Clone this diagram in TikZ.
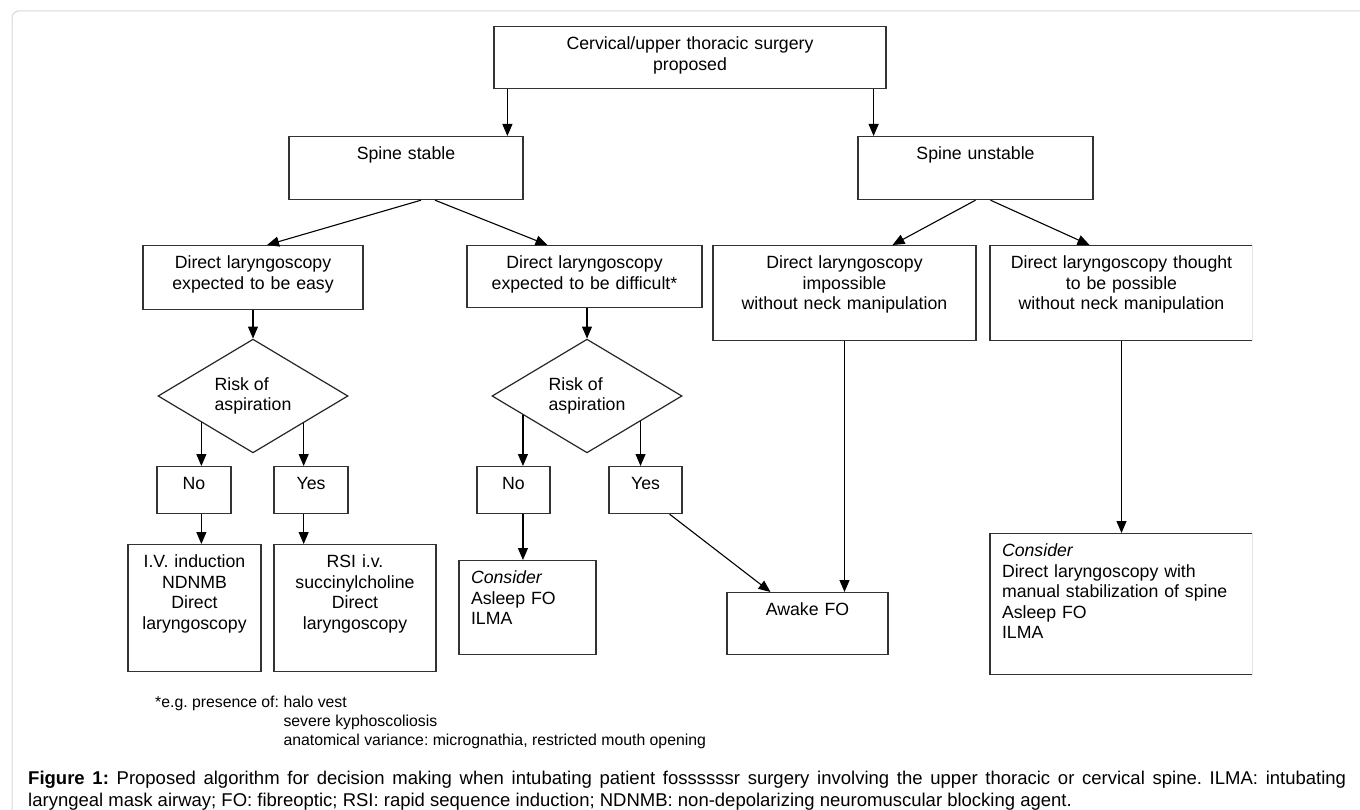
\documentclass[tikz,border=0pt]{standalone}
\usepackage{fontspec}
\setmainfont{Liberation Sans}
\usepackage{tikz}
\usetikzlibrary{shapes}
\usetikzlibrary{arrows.meta}
\usetikzlibrary{calc}

\newcommand{\boxfont}{\fontsize{17.7pt}{20.5pt}\selectfont}
\newcommand{\notefont}{\fontsize{15.8pt}{19pt}\selectfont}
\newcommand{\capfont}{\fontsize{18.5pt}{22pt}\selectfont}
\frenchspacing

\begin{document}
\begin{tikzpicture}[x=1pt,y=-1pt]
	\tikzset{box/.style = {draw=black!80, line width=1.2pt, anchor=north, align=center, 
			inner xsep=0pt, inner ysep=0pt, text height=23pt, font=\boxfont}}
	\tikzset{boxleft/.style = {box, align=left, inner xsep=12pt}}
	\tikzset{decision/.style = {shape=diamond, draw=black!85, line width=1.2pt, 
			minimum width=190pt, minimum height=112pt, inner sep=0pt, 
			align=left, font=\boxfont}}
	\tikzset{edge/.style = {-{Triangle[length=12pt,width=10pt]}, line width=1.1pt}}
	\tikzset{note/.style = {inner sep=0pt, anchor=base west}}
	
	\useasboundingbox (0,0) rectangle (1360,810);
	\fill[white] (0,0) rectangle (1360,810);
	% frame
	\draw[black!15, line width=1pt, rounded corners=7pt] (12,11) rectangle (1400,850);
	
	\begin{scope}
		\clip (0,0) rectangle (1252,700);
		% vertices
		\node[box, text width=392pt, text depth=39pt] (top) at (690,26) {Cervical/upper thoracic surgery\\proposed};
		\node[box, text width=234pt, text depth=40pt] (stable) at (406,136) {Spine stable};
		\node[box, text width=235pt, text depth=40pt] (unstable) at (975.5,136) {Spine unstable};
		\node[box, text width=220pt, text depth=41pt] (easy) at (253,245) {Direct laryngoscopy\\expected to be easy};
		\node[box, text width=235pt, text depth=39pt] (diff) at (584.5,245) {Direct laryngoscopy\\expected to be difficult*};
		\node[box, text width=263pt, text depth=72pt] (imposs) at (844.5,245) {Direct laryngoscopy\\impossible\\without neck manipulation};
		\node[box, text width=263pt, text depth=72pt] (thought) at (1121.5,245) {Direct laryngoscopy thought\\to be possible\\without neck manipulation};
		\node[decision] (risk1) at (253,396) {Risk of\\aspiration};
		\node[decision] (risk2) at (587,396) {Risk of\\aspiration};
		\node[box, text width=74pt, text depth=24pt] (no1) at (194,466) {No};
		\node[box, text width=74pt, text depth=24pt] (yes1) at (311,466) {Yes};
		\node[box, text width=73pt, text depth=24pt] (no2) at (513.5,466) {No};
		\node[box, text width=73pt, text depth=24pt] (yes2) at (645.5,466) {Yes};
		\node[box, text width=133pt, text depth=104pt] (ivind) at (194.5,544) {I.V. induction\\NDNMB\\Direct\\laryngoscopy};
		\node[box, text width=162pt, text depth=104pt] (rsi) at (355,544) {RSI i.v.\\succinylcholine\\Direct\\laryngoscopy};
		\node[boxleft, text width=113pt, text depth=71pt] (asleep) at (527.5,560) {\textit{Consider}\\Asleep FO\\ILMA};
		\node[box, text width=161pt, text depth=39pt] (awake) at (807.5,592) {Awake FO};
		\node[boxleft, text width=239pt, text depth=118pt] (manual) at (1121.5,533) {\textit{Consider}\\Direct laryngoscopy with\\manual stabilization of spine\\Asleep FO\\ILMA};
		
		\coordinate (r1l) at ($(risk1.west)!0.46!(risk1.south)$);
		\coordinate (r1r) at ($(risk1.east)!0.47!(risk1.south)$);
		\coordinate (r2l) at ($(risk2.west)!0.33!(risk2.south)$);
		\coordinate (r2r) at ($(risk2.east)!0.44!(risk2.south)$);
		
		%edges
		\draw[edge] ([xshift=14pt]top.south west) -- ([xshift=14pt]top.south west |- stable.north);
		\draw[edge] ([xshift=-13pt]top.south east) -- ([xshift=-13pt]top.south east |- unstable.north);
		\draw[edge] ([xshift=15pt]stable.south) -- ([xshift=14pt]easy.north);
		\draw[edge] ([xshift=29pt]stable.south) -- ([xshift=-37pt]diff.north);
		\draw[edge] (unstable.south) -- ([xshift=48pt]imposs.north);
		\draw[edge] ([xshift=15pt]unstable.south) -- ([xshift=-32pt]thought.north);
		\draw[edge] (easy.south) -- (risk1.north);
		\draw[edge] (risk2.north |- diff.south) -- (risk2.north);
		\draw[edge] (r1l) -- (r1l |- no1.north);
		\draw[edge] (r1l |- no1.south) -- (r1l |- ivind.north);
		\draw[edge] (r1r) -- (r1r |- yes1.north);
		\draw[edge] (r1r |- yes1.south) -- (r1r |- rsi.north);
		\draw[edge] (r2l) -- (r2l |- no2.north);
		\draw[edge] (r2l |- no2.south) -- (r2l |- asleep.north);
		\draw[edge] (r2r) -- (r2r |- yes2.north);
		\draw[edge] ([xshift=-13pt]yes2.south east) -- ([xshift=-37pt]awake.north);
		\draw[edge] (imposs.south) -- (imposs.south |- awake.north);
		\draw[edge] (thought.south) -- (manual.north);
	\end{scope}
	
	% notes
	\node[note, font=\notefont] (foot) at (155,707) {\begin{tabular}[t]{@{}l@{\hspace{4.5pt}}l@{}}*e.g. presence of: & halo vest\\
			& severe kyphoscoliosis\\
			& anatomical variance: micrognathia, restricted mouth opening\end{tabular}};
	\node[note, font=\capfont, text width=1318pt, align=justify] (caption) at (28,784) {\textbf{Figure 1:} Proposed algorithm for decision making when intubating patient fossssssr surgery involving the upper thoracic or cervical spine. ILMA: intubating\linebreak laryngeal mask airway; FO: fibreoptic; RSI: rapid sequence induction; NDNMB: non-depolarizing neuromuscular blocking agent.};
\end{tikzpicture}
\end{document}
